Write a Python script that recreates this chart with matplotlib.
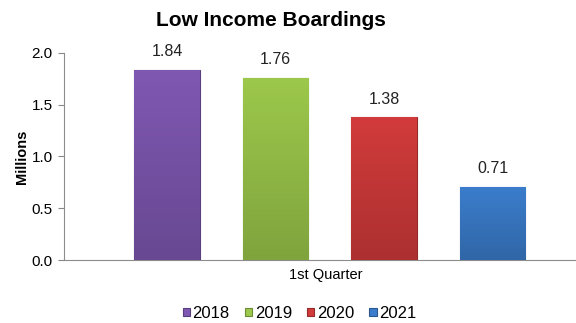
import matplotlib.pyplot as plt
import numpy as np
from matplotlib.colors import to_rgb

years = ["2018", "2019", "2020", "2021"]
boardings = [1.84, 1.76, 1.38, 0.71]
quarter = "1st Quarter"
colors = ["#7f58b2", "#9cc84b", "#d23b3b", "#3b7dcc"]

fig = plt.figure(figsize=(5.76, 3.23), dpi=100)
ax = fig.add_axes([0.111, 0.195, 0.889, 0.641])

x = np.arange(len(years))
bars = ax.bar(x, boardings, width=0.6, color=colors, label=years, zorder=2)

# soft vertical shading inside each bar
for b, c in zip(bars, colors):
    r, g, bl = to_rgb(c)
    grad = np.linspace(0, 1, 64).reshape(-1, 1)
    img = np.zeros((64, 1, 3))
    for k, ch in enumerate((r, g, bl)):
        img[:, 0, k] = ch * (0.82 + 0.18 * grad[:, 0])
    x0, y0 = b.get_x(), b.get_y()
    im = ax.imshow(img, extent=[x0, x0 + b.get_width(), y0, y0 + b.get_height()],
                   origin="lower", aspect="auto", zorder=3)
    im.set_clip_path(b)
    b.set_edgecolor(tuple(v * 0.7 for v in (r, g, bl)))
    b.set_linewidth(0.8)

for b, v in zip(bars, boardings):
    ax.text(b.get_x() + b.get_width() / 2, v + 0.1, f"{v:.2f}",
            ha="center", va="bottom", fontsize=11.5, color="#222222",
            family="Liberation Sans")

ax.set_xlim(-0.95, 3.77)
ax.set_ylim(0, 2.0)
ax.set_yticks([0, 0.5, 1.0, 1.5, 2.0])
ax.set_yticklabels(["0.0", "0.5", "1.0", "1.5", "2.0"], family="Liberation Sans", fontsize=11)
ax.set_xticks([1.46])
ax.set_xticklabels([quarter], family="Liberation Sans", fontsize=10.5)
ax.tick_params(axis="x", length=0, pad=6)
ax.tick_params(axis="y", length=4, color="#888888", direction="out", pad=4)

for s in ["top", "right"]:
    ax.spines[s].set_visible(False)
ax.spines["left"].set_color("#8c8c8c")
ax.spines["bottom"].set_color("#8c8c8c")

ax.set_ylabel("Millions", fontsize=10.5, fontweight="bold", family="Liberation Sans", labelpad=2)
fig.suptitle("Low Income Boardings", x=0.47, y=0.965, fontsize=15, fontweight="bold",
             family="Liberation Sans")

leg = fig.legend(bars, years, loc="lower center", bbox_to_anchor=(0.52, -0.04), ncol=4,
                 frameon=False, handlelength=0.45, handleheight=0.45, handletextpad=0.15,
                 columnspacing=0.9, prop={"family": "Liberation Sans", "size": 12})

fig.savefig("out.png", dpi=100)
